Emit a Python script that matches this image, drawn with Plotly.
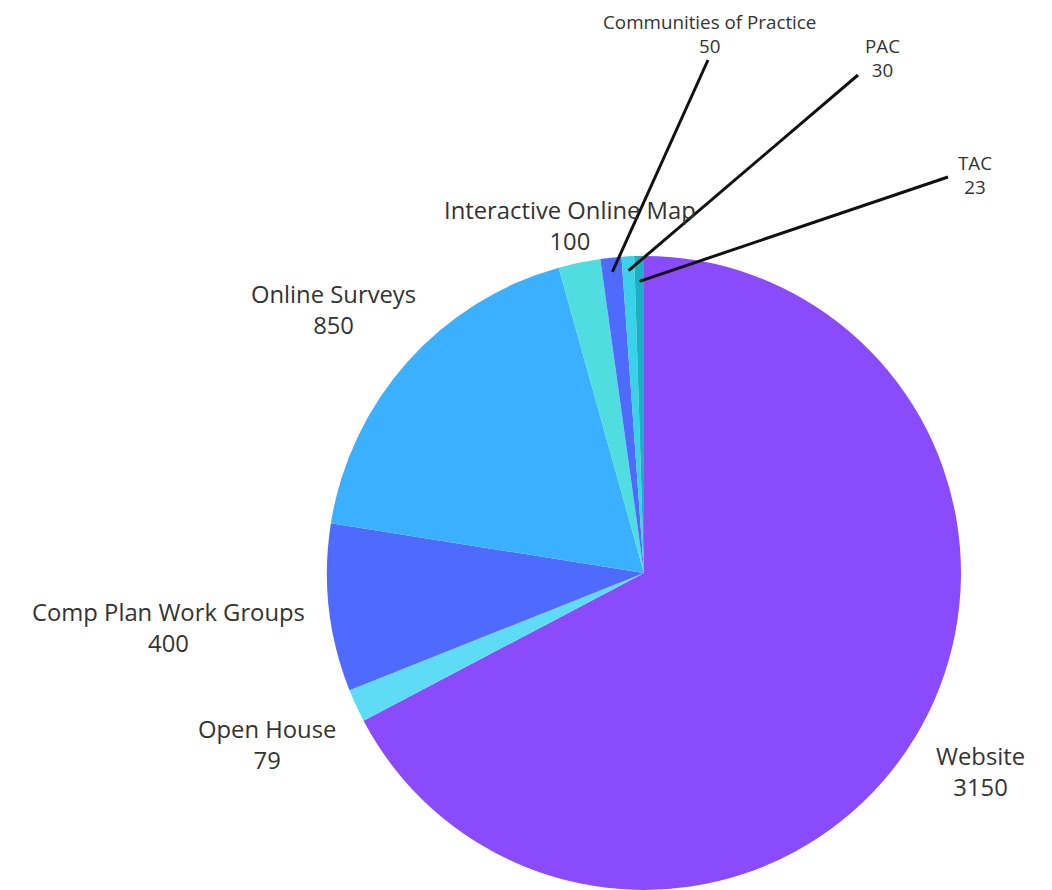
import math
import plotly.graph_objects as go

labels = ["Website", "Open House", "Comp Plan Work Groups", "Online Surveys",
          "Interactive Online Map", "Communities of Practice", "PAC", "TAC"]
values = [3150, 79, 400, 850, 100, 50, 30, 23]
colors = ["#8a4bfd", "#5fdcf5", "#4f6bff", "#3ab0ff", "#4fdde0", "#4f6bff", "#3ad2e8", "#1cb0c4"]

W, H = 1052, 890
dom_x = [0.3099, 0.9144]
dom_y = [0.0, 0.7124]

fig = go.Figure(go.Pie(
    labels=labels, values=values, sort=False, direction="clockwise", rotation=0,
    marker=dict(colors=colors, line=dict(width=0)),
    textinfo="none", hoverinfo="label+value", showlegend=False,
    domain=dict(x=dom_x, y=dom_y),
))

# pie geometry in pixels
cx = (dom_x[0] + dom_x[1]) / 2 * W
cy = H - (dom_y[0] + dom_y[1]) / 2 * H
R = min((dom_x[1] - dom_x[0]) * W, (dom_y[1] - dom_y[0]) * H) / 2
total = sum(values)

def mid_angle(i):
    before = sum(values[:i])
    return (before + values[i] / 2) / total * 2 * math.pi

def pie_point(i, frac):
    a = mid_angle(i)
    return cx + frac * R * math.sin(a), cy - frac * R * math.cos(a)

# label placements (pixel centres, font size) - layout choices
label_pos = {
    "Website": (980, 771, 23.8),
    "Open House": (267, 744, 23.8),
    "Comp Plan Work Groups": (168, 627, 23.8),
    "Online Surveys": (333, 309, 23.8),
    "Interactive Online Map": (570, 225, 23.8),
    "Communities of Practice": (709, 34, 18.8),
    "PAC": (882, 58, 18.8),
    "TAC": (975, 175, 18.8),
}
# leader lines: (end x, end y, radius fraction at slice)
leaders = {
    "Communities of Practice": (708, 60, 0.955),
    "PAC": (858, 75, 0.955),
    "TAC": (948, 177, 0.92),
}

font_family = "Open Sans, Lato, sans-serif"
annotations = []
for i, (lab, val) in enumerate(zip(labels, values)):
    x, y, fs = label_pos[lab]
    annotations.append(dict(
        x=x / W, y=1 - y / H, xref="paper", yref="paper",
        text=f"{lab}<br>{val}", showarrow=False, xanchor="center", yanchor="middle",
        font=dict(family=font_family, size=fs, color="#333333"), align="center",
    ))

shapes = []
for lab, (ex, ey, frac) in leaders.items():
    i = labels.index(lab)
    px, py = pie_point(i, frac)
    shapes.append(dict(type="line", xref="paper", yref="paper",
                       x0=px / W, y0=1 - py / H, x1=ex / W, y1=1 - ey / H,
                       line=dict(color="#111111", width=3)))

fig.update_layout(
    width=W, height=H, margin=dict(l=0, r=0, t=0, b=0),
    paper_bgcolor="white", plot_bgcolor="white",
    annotations=annotations, shapes=shapes,
)

fig.write_html("out.html")
